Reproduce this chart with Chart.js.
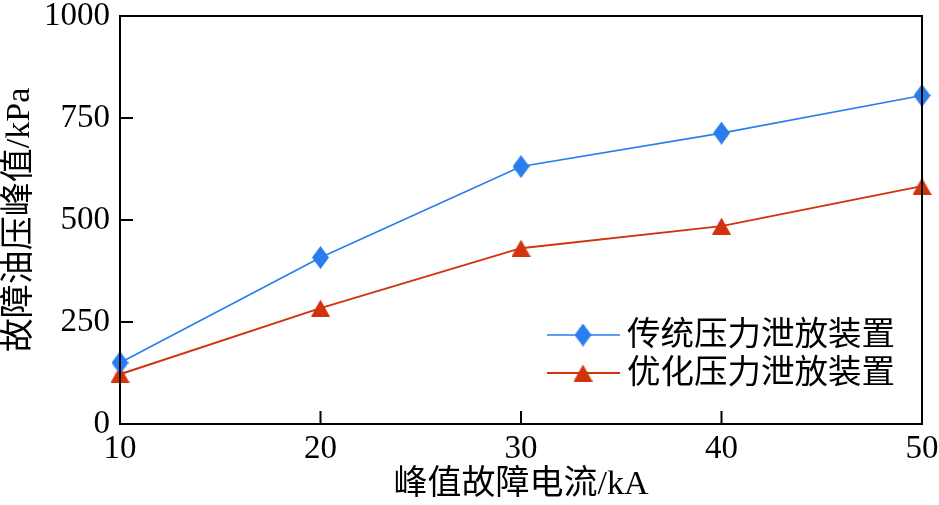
<!DOCTYPE html>
<html><head><meta charset="utf-8">
<script src="https://cdn.jsdelivr.net/npm/chart.js@4/dist/chart.umd.min.js"></script>
<style>html,body{margin:0;padding:0;background:#fff;}#wrap{width:939px;height:505px;}</style>
</head><body><div id="wrap"><canvas id="c" width="939" height="505"></canvas></div>
<script>
const currents = [10, 20, 30, 40, 50];
const traditional = [150, 408, 631, 713, 805];
const optimized = [122, 284, 431, 485, 583];
const seriesNames = ['传统压力泄放装置', '优化压力泄放装置'];
const xTitle = '峰值故障电流/kA';
const yTitle = '故障油压峰值/kPa';
const yTicks = [0, 250, 500, 750, 1000];
const xTicks = [10, 20, 30, 40, 50];

const BLUE = '#2a7ded', RED = '#d2330c';
const FONT = "'Liberation Serif','Noto Sans CJK SC',serif";

function diamond(color){const c=document.createElement('canvas');c.width=17;c.height=23;const g=c.getContext('2d');g.fillStyle=color;g.beginPath();g.moveTo(8.5,0);g.lineTo(17,11.5);g.lineTo(8.5,23);g.lineTo(0,11.5);g.closePath();g.fill();return c;}
function tri(color){const c=document.createElement('canvas');c.width=19;c.height=17;const g=c.getContext('2d');g.fillStyle=color;g.beginPath();g.moveTo(9.5,0);g.lineTo(19,17);g.lineTo(0,17);g.closePath();g.fill();return c;}
const dIcon = diamond(BLUE), tIcon = tri(RED);

const frame = {
  id:'frame',
  afterDatasetsDraw(chart){
    const {ctx, chartArea:a, scales} = chart;
    ctx.save();
    ctx.strokeStyle='#000'; ctx.lineWidth=2;
    ctx.strokeRect(a.left, a.top, a.right-a.left, a.bottom-a.top);
    ctx.lineWidth=2;
    ctx.beginPath();
    yTicks.forEach(v=>{const y=scales.y.getPixelForValue(v); ctx.moveTo(a.left,y); ctx.lineTo(a.left+13,y);});
    xTicks.forEach(v=>{const x=scales.x.getPixelForValue(v); ctx.moveTo(x,a.bottom); ctx.lineTo(x,a.bottom-13);});
    ctx.stroke();
    const items=[{c:BLUE,icon:dIcon,t:seriesNames[0],w:1.6},{c:RED,icon:tIcon,t:seriesNames[1],w:2}];
    const x0=a.left+427, y0=a.top+319;
    items.forEach((it,i)=>{
      const y=y0+i*38;
      ctx.strokeStyle=it.c; ctx.lineWidth=it.w;
      ctx.beginPath(); ctx.moveTo(x0,y); ctx.lineTo(x0+73,y); ctx.stroke();
      ctx.drawImage(it.icon, x0+36-it.icon.width/2, y-it.icon.height/2);
      ctx.fillStyle='#000'; ctx.font="33.5px "+FONT; ctx.textBaseline='middle'; ctx.textAlign='left';
      ctx.fillText(it.t, x0+80, y+1);
    });
    ctx.restore();
  }
};

new Chart(document.getElementById('c'), {
  type:'line',
  data:{datasets:[
    {label:seriesNames[0], data:currents.map((x,i)=>({x, y:traditional[i]})), borderColor:BLUE, backgroundColor:BLUE, borderWidth:1.6, pointStyle:dIcon, pointRadius:10, clip:false, tension:0},
    {label:seriesNames[1], data:currents.map((x,i)=>({x, y:optimized[i]})), borderColor:RED, backgroundColor:RED, borderWidth:2, pointStyle:tIcon, pointRadius:10, clip:false, tension:0}
  ]},
  options:{
    responsive:false, animation:false, devicePixelRatio:1,
    layout:{padding:{left:0,right:17,top:16,bottom:0}},
    plugins:{legend:{display:false}, tooltip:{enabled:false}},
    scales:{
      x:{type:'linear', min:10, max:50,
         afterBuildTicks(s){s.ticks=xTicks.map(v=>({value:v}));},
         grid:{display:false, drawTicks:false}, border:{display:false},
         ticks:{color:'#000', font:{family:FONT,size:33}, padding:6, maxRotation:0, callback:v=>String(v)},
         title:{display:true, text:xTitle, color:'#000', font:{family:FONT,size:34}, padding:{top:0,bottom:0}},
         afterFit(s){s.height=81; s.paddingLeft=0; s.paddingRight=0;}},
      y:{type:'linear', min:0, max:1000,
         afterBuildTicks(s){s.ticks=yTicks.map(v=>({value:v}));},
         grid:{display:false, drawTicks:false}, border:{display:false},
         ticks:{color:'#000', font:{family:FONT,size:33}, padding:10, callback:v=>String(v)},
         title:{display:true, text:yTitle, color:'#000', font:{family:FONT,size:34}, padding:{top:0,bottom:0}},
         afterFit(s){s.width=120; s.paddingTop=0; s.paddingBottom=0;}}
    }
  },
  plugins:[frame]
});
</script></body></html>
